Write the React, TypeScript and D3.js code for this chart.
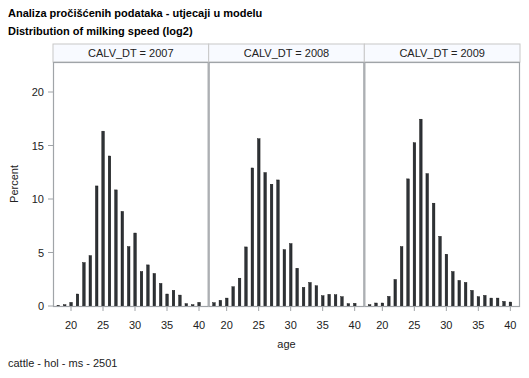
import React from "react";
import * as d3 from "d3";

const ages = [18,19,20,21,22,23,24,25,26,27,28,29,30,31,32,33,34,35,36,37,38,39,40];
const years = ["2007", "2008", "2009"];
const pct2007 = [0.05,0.12,0.34,1.12,4.06,4.71,11.22,16.34,14.02,10.85,8.84,5.55,6.82,3.22,3.84,3.04,2.11,1.12,1.46,1.02,0.22,0.12,0.34];
const pct2008 = [0.31,0.53,0.74,1.80,2.60,5.52,12.90,15.63,12.47,11.38,11.78,5.27,5.83,3.53,1.74,2.20,1.89,0.96,1.09,1.05,0.87,0.22,0.25];
const pct2009 = [0.12,0.28,0.28,0.90,2.48,5.55,11.88,15.26,17.46,12.37,9.61,6.51,4.84,3.22,2.39,2.20,1.46,0.87,0.99,0.74,0.74,0.43,0.37];
const xTicks = [20,25,30,35,40];
const yTicks = [0,5,10,15,20];
const series = [pct2007, pct2008, pct2009];

const W = 529, H = 378;
const left = 53, right = 520;
const headerTop = 44, plotTop = 62, plotBottom = 306;
const panelW = (right - left) / 3;
const font = "'Liberation Sans', Arial, Helvetica, sans-serif";

export default function App() {
  const y = d3.scaleLinear().domain([0, 20]).range([plotBottom, 92]);
  return (
    <svg width={W} height={H} style={{ position: "absolute", left: 0, top: 0, background: "#fff" }} fontFamily={font}>
      <text x={8} y={17} fontSize={11} fontWeight="bold">Analiza pročišćenih podataka - utjecaji u modelu</text>
      <text x={8} y={35} fontSize={11} fontWeight="bold">Distribution of milking speed (log2)</text>
      {years.map((yr, i) => {
        const x0 = left + i * panelW;
        const x = d3.scaleLinear().domain([20, 40]).range([x0 + 18, x0 + 146]);
        const vals = series[i];
        return (
          <g key={yr}>
            <rect x={x0} y={headerTop} width={panelW} height={plotTop - headerTop} fill="#f8faff" stroke="#c8c8c8" strokeWidth={1} />
            <text x={x0 + panelW / 2} y={57} fontSize={11} textAnchor="middle" fill="#222">{`CALV_DT = ${yr}`}</text>
            {ages.map((a, j) => (
              <rect key={a} x={x(a) - 1.2} y={y(vals[j])} width={2.6} height={plotBottom - y(vals[j])} fill="#2e3236" stroke="#0a0a0a" strokeWidth={0.4} />
            ))}
            <rect x={x0 + 0.5} y={plotTop + 0.5} width={panelW - 1} height={plotBottom - plotTop} fill="none" stroke="#a0a4a8" strokeWidth={1.2} />
            {xTicks.map(t => (
              <g key={t}>
                <line x1={x(t)} x2={x(t)} y1={plotBottom} y2={plotBottom + 5} stroke="#a0a4a8" />
                <text x={x(t)} y={329} fontSize={11} textAnchor="middle" fill="#222">{t}</text>
              </g>
            ))}
          </g>
        );
      })}
      {yTicks.map(t => (
        <g key={t}>
          <line x1={left - 5} x2={left} y1={y(t)} y2={y(t)} stroke="#a0a4a8" />
          <text x={left - 9} y={y(t) + 4} fontSize={11} textAnchor="end" fill="#222">{t}</text>
        </g>
      ))}
      <text transform={`translate(18,${(plotTop + plotBottom) / 2}) rotate(-90)`} fontSize={11} textAnchor="middle" fill="#222">Percent</text>
      <text x={(left + right) / 2} y={348} fontSize={11} textAnchor="middle" fill="#222">age</text>
      <text x={8} y={367} fontSize={11} fill="#222">cattle - hol - ms - 2501</text>
    </svg>
  );
}
